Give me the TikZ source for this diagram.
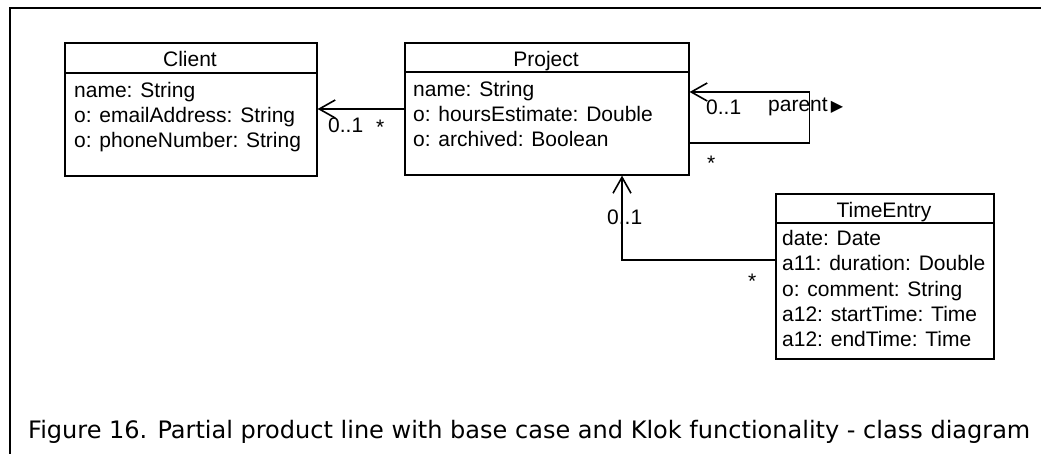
\documentclass[tikz,border=0pt]{standalone}
\usepackage{fontspec}
\setmainfont{Liberation Sans}
\newfontfamily\capfont{DejaVu Sans}
\usetikzlibrary{arrows.meta}
\begin{document}
\begin{tikzpicture}[x=1pt,y=-1pt,
  umlbox/.style={draw, line width=1.6pt, rectangle, inner sep=0pt, anchor=north west},
  divider/.style={line width=1.6pt},
  frameline/.style={line width=2.2pt},
  title/.style={font=\fontsize{21}{25}\selectfont, anchor=base, inner sep=0pt},
  attr/.style={font=\fontsize{21}{25}\selectfont, anchor=base west, inner sep=0pt},
  mult/.style={font=\fontsize{21}{25}\selectfont, anchor=base west, inner sep=0pt},
  assoc/.style={line width=1.6pt, -{Straight Barb[length=16pt,width=18pt,line width=1.6pt]}},
  ]
\useasboundingbox (0,0) rectangle (1041,454);
% frame
\coordinate (fbl) at (10,454);
\coordinate (ftl) at (10,8);
\coordinate (ftr) at (1041,8);
\draw[frameline] (fbl) -- (ftl) -- (ftr);

% Client
\node[umlbox, minimum width=252pt, minimum height=133pt] (client) at (64,42) {};
\draw[divider] ([yshift=-31pt]client.north west) -- ([yshift=-31pt]client.north east);
\node[title] (clientT) at (190,67) {Client};
\node[attr] (c1) at (74,98) {name: String};
\node[attr] (c2) at (74,123) {o: emailAddress: String};
\node[attr] (c3) at (74,148) {o: phoneNumber: String};

% Project
\node[umlbox, minimum width=284pt, minimum height=132pt] (project) at (404,42) {};
\draw[divider] ([yshift=-30pt]project.north west) -- ([yshift=-30pt]project.north east);
\node[title] (projectT) at (546,67) {Project};
\node[attr] (p1) at (413,97) {name: String};
\node[attr] (p2) at (413,122) {o: hoursEstimate: Double};
\node[attr] (p3) at (413,147) {o: archived: Boolean};

% TimeEntry
\node[umlbox, minimum width=218pt, minimum height=165pt] (timeentry) at (775,193) {};
\draw[divider] ([yshift=-30pt]timeentry.north west) -- ([yshift=-30pt]timeentry.north east);
\node[title] (timeentryT) at (884,218) {TimeEntry};
\node[attr] (t1) at (782,246) {date: Date};
\node[attr] (t2) at (782,271) {a11: duration: Double};
\node[attr] (t3) at (782,296) {o: comment: String};
\node[attr] (t4) at (782,321) {a12: startTime: Time};
\node[attr] (t5) at (782,346) {a12: endTime: Time};

% connectors
\draw[assoc] ([yshift=-67pt]project.north west) -- ([yshift=-67pt]client.north east);
\draw[assoc] ([yshift=-101pt]project.north east) -- ++(120,0) -- ++(0,-51) -- ([yshift=-50pt]project.north east);
\coordinate (bend) at (622,260);
\draw[assoc] ([yshift=-67pt]timeentry.north west) -- (bend) -- (bend |- project.south);

% multiplicities and labels
\node[mult] (m1) at (328,133) {0..1};
\node[mult] (m2) at (376,135) {*};
\node[mult] (m3) at (706,115) {0..1};
\node[mult] (m4) at (768,112) {parent\kern3pt{\capfont\fontsize{16}{16}\selectfont ▶}};
\node[mult] (m5) at (707,171) {*};
\node[mult] (m6) at (607,225) {0..1};
\node[mult] (m7) at (748,288) {*};

% caption
\node[anchor=base west, inner sep=0pt] (cap) at (28,438) {\resizebox{1002pt}{!}{\capfont\fontsize{20}{24}\selectfont Figure 16. Partial product line with base case and Klok functionality - class diagram}};
\end{tikzpicture}
\end{document}
